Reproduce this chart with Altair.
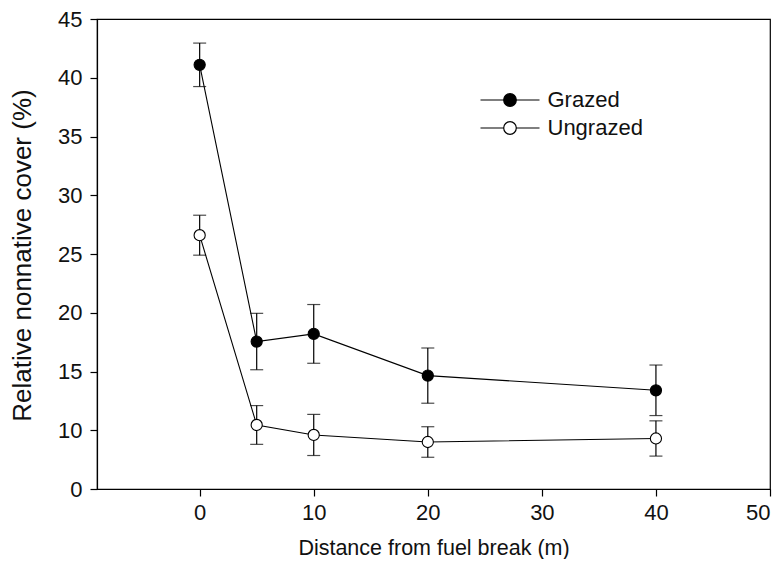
import altair as alt
import pandas as pd

# ---- data ----
distance = [0, 5, 10, 20, 40]
grazed_mean = [41.1, 17.55, 18.2, 14.65, 13.4]
grazed_se = [1.85, 2.4, 2.5, 2.35, 2.15]
ungrazed_mean = [26.6, 10.45, 9.6, 9.0, 9.3]
ungrazed_se = [1.7, 1.65, 1.75, 1.3, 1.5]
series = ["Grazed", "Ungrazed"]
series_fill = ["black", "white"]
x_ticks = [0, 10, 20, 30, 40, 50]
y_ticks = [5, 10, 15, 20, 25, 30, 35, 40, 45]

rows = []
for name, means, ses in [("Grazed", grazed_mean, grazed_se),
                         ("Ungrazed", ungrazed_mean, ungrazed_se)]:
    for d, m, s in zip(distance, means, ses):
        rows.append({"distance": d, "cover": m, "lo": m - s, "hi": m + s,
                     "treatment": name})
df = pd.DataFrame(rows)

FONT = "Liberation Sans"
INK = "#111111"

x_axis = alt.Axis(values=x_ticks, title="Distance from fuel break (m)",
                  grid=False, tickSize=7, labelPadding=6,
                  titleY=65, titleBaseline="alphabetic", titleFontSize=21.5)
y_axis = alt.Axis(values=y_ticks, title="Relative nonnative cover (%)",
                  grid=False, tickSize=7, labelPadding=8,
                  labelExpr="datum.value == 5 ? '0' : datum.label",
                  titleX=-75, titleY=236, titleAngle=-90, titleFontSize=26,
                  titleBaseline="middle", titleAlign="center")
x_scale = alt.Scale(domain=[-9, 50], nice=False, zero=False)
y_scale = alt.Scale(domain=[5, 45], nice=False, zero=False)


def X():
    return alt.X("distance:Q", scale=x_scale, axis=x_axis)


def Y(field):
    return alt.Y(f"{field}:Q", scale=y_scale, axis=y_axis)


base = alt.Chart(df)

bars = base.mark_rule(color="black", strokeWidth=1.2).encode(
    x=X(), y=Y("lo"), y2="hi:Q", detail="treatment:N")
caps_lo = base.mark_tick(orient="horizontal", size=13, thickness=1.2,
                         color="black").encode(x=X(), y=Y("lo"))
caps_hi = base.mark_tick(orient="horizontal", size=13, thickness=1.2,
                         color="black").encode(x=X(), y=Y("hi"))
line = base.mark_line(color="black", strokeWidth=1.1).encode(
    x=X(), y=Y("cover"), detail="treatment:N")

# legend glyph: a line segment with a marker in the middle
legend_path = ("M-2.95,0 L-0.63,0 M0.63,0 L2.95,0 "
               "M-0.63,0 A0.63,0.63 0 1,0 0.63,0 A0.63,0.63 0 1,0 -0.63,0 Z")

pts = base.mark_point(filled=True, size=125, stroke="black", strokeWidth=1.1,
                      opacity=1).encode(
    x=X(), y=Y("cover"),
    fill=alt.Fill("treatment:N",
                  scale=alt.Scale(domain=series, range=series_fill),
                  legend=alt.Legend(title=None, orient="none",
                                    legendX=402, legendY=70,
                                    symbolType=legend_path, symbolSize=400,
                                    symbolStrokeColor="black",
                                    symbolStrokeWidth=1.2,
                                    labelOffset=26.5, padding=0,
                                    rowPadding=6,
                                    labelFontSize=22, labelFont=FONT,
                                    labelColor=INK)))

chart = alt.layer(bars, caps_lo, caps_hi, line, pts).properties(
    width=673, height=470,
    autosize=alt.AutoSizeParams(type="none"),
    padding={"left": 89, "top": 11, "right": 5, "bottom": 70},
).configure_view(
    stroke="black", strokeWidth=1.2
).configure_axis(
    domainColor="black", domainWidth=1.2, tickColor="black", tickWidth=1.2,
    labelFont=FONT, labelFontSize=22, labelColor=INK,
    titleFont=FONT, titleColor=INK, titleFontWeight="normal",
)

chart.save("out.html", embed_options={"renderer": "svg", "actions": False})
